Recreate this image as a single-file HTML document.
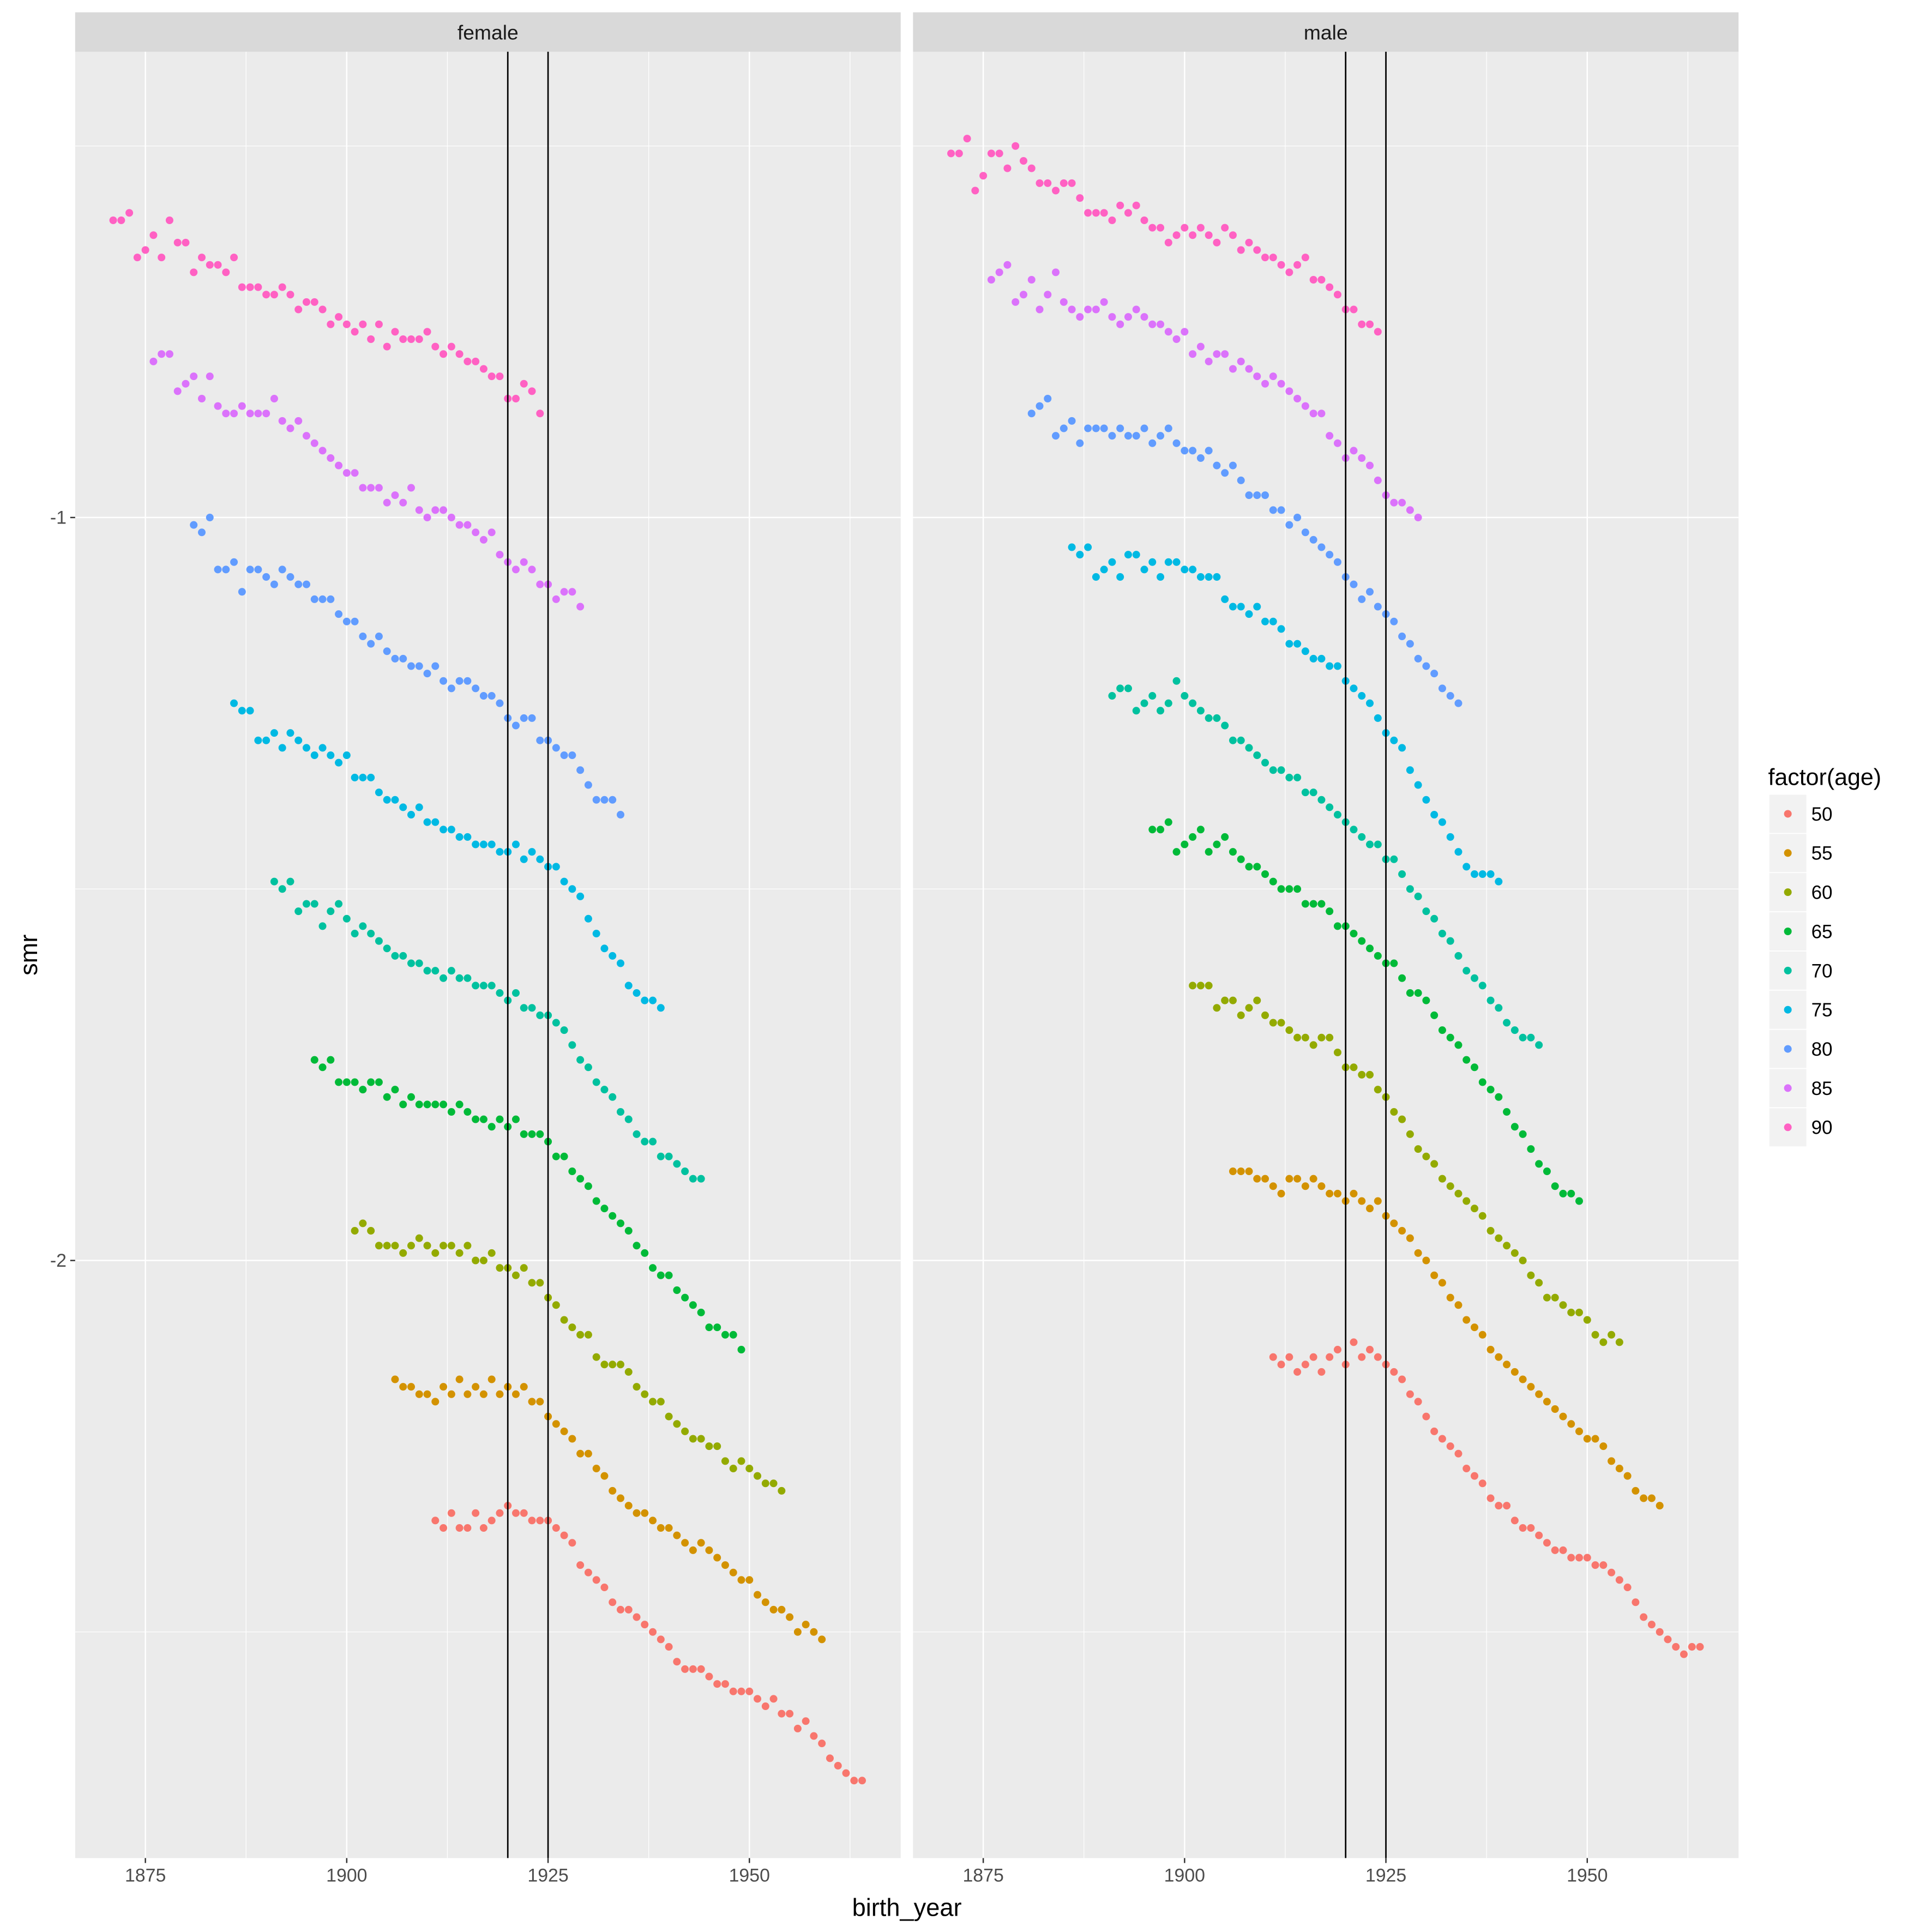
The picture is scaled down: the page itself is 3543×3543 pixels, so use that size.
<!DOCTYPE html>
<html><head><meta charset="utf-8"><style>html,body{margin:0;padding:0;background:#fff}svg{display:block;font-family:"Liberation Sans",Arial,sans-serif}</style></head>
<body>
<svg id="chart" width="3543" height="3543" viewBox="0 0 1568 1568" xmlns="http://www.w3.org/2000/svg"></svg>
<script>
const panels = ["female", "male"];
const ages = [50, 55, 60, 65, 70, 75, 80, 85, 90];
const colors = ["#F8766D","#D39200","#93AA00","#00BA38","#00C19F","#00B9E3","#619CFF","#DB72FB","#FF61C3"];
const startYears = [1911, 1906, 1901, 1896, 1891, 1886, 1881, 1876, 1871];
const xTicks = [1875, 1900, 1925, 1950];
const yTicks = [-1, -2];
const yMinor = [-0.5, -1.5, -2.5];
const vlines = [1920, 1925];
const female50 = [-2.35,-2.36,-2.34,-2.36,-2.36,-2.34,-2.36,-2.35,-2.34,-2.33,-2.34,-2.34,-2.35,-2.35,-2.35,-2.36,-2.37,-2.38,-2.41,-2.42,-2.43,-2.44,-2.46,-2.47,-2.47,-2.48,-2.49,-2.50,-2.51,-2.52,-2.54,-2.55,-2.55,-2.55,-2.56,-2.57,-2.57,-2.58,-2.58,-2.58,-2.59,-2.60,-2.59,-2.61,-2.61,-2.63,-2.62,-2.64,-2.65,-2.67,-2.68,-2.69,-2.70,-2.70];
const female55 = [-2.16,-2.17,-2.17,-2.18,-2.18,-2.19,-2.17,-2.18,-2.16,-2.18,-2.17,-2.18,-2.16,-2.18,-2.17,-2.18,-2.17,-2.19,-2.19,-2.21,-2.22,-2.23,-2.24,-2.26,-2.26,-2.28,-2.29,-2.31,-2.32,-2.33,-2.34,-2.34,-2.35,-2.36,-2.36,-2.37,-2.38,-2.39,-2.38,-2.39,-2.40,-2.41,-2.42,-2.43,-2.43,-2.45,-2.46,-2.47,-2.47,-2.48,-2.50,-2.49,-2.50,-2.51];
const female60 = [-1.96,-1.95,-1.96,-1.98,-1.98,-1.98,-1.99,-1.98,-1.97,-1.98,-1.99,-1.98,-1.98,-1.99,-1.98,-2.00,-2.00,-1.99,-2.01,-2.01,-2.02,-2.01,-2.03,-2.03,-2.05,-2.06,-2.08,-2.09,-2.10,-2.10,-2.13,-2.14,-2.14,-2.14,-2.15,-2.17,-2.18,-2.19,-2.19,-2.21,-2.22,-2.23,-2.24,-2.24,-2.25,-2.25,-2.27,-2.28,-2.27,-2.28,-2.29,-2.30,-2.30,-2.31];
const female65 = [-1.73,-1.74,-1.73,-1.76,-1.76,-1.76,-1.77,-1.76,-1.76,-1.78,-1.77,-1.79,-1.78,-1.79,-1.79,-1.79,-1.79,-1.80,-1.79,-1.80,-1.81,-1.81,-1.82,-1.81,-1.82,-1.81,-1.83,-1.83,-1.83,-1.84,-1.86,-1.86,-1.88,-1.89,-1.90,-1.92,-1.93,-1.94,-1.95,-1.96,-1.98,-1.99,-2.01,-2.02,-2.02,-2.04,-2.05,-2.06,-2.07,-2.09,-2.09,-2.10,-2.10,-2.12];
const female70 = [-1.49,-1.50,-1.49,-1.53,-1.52,-1.52,-1.55,-1.53,-1.52,-1.54,-1.56,-1.55,-1.56,-1.57,-1.58,-1.59,-1.59,-1.60,-1.60,-1.61,-1.61,-1.62,-1.61,-1.62,-1.62,-1.63,-1.63,-1.63,-1.64,-1.65,-1.64,-1.66,-1.66,-1.67,-1.67,-1.68,-1.69,-1.71,-1.73,-1.74,-1.76,-1.77,-1.78,-1.80,-1.81,-1.83,-1.84,-1.84,-1.86,-1.86,-1.87,-1.88,-1.89,-1.89];
const female75 = [-1.25,-1.26,-1.26,-1.30,-1.30,-1.29,-1.31,-1.29,-1.30,-1.31,-1.32,-1.31,-1.32,-1.33,-1.32,-1.35,-1.35,-1.35,-1.37,-1.38,-1.38,-1.39,-1.40,-1.39,-1.41,-1.41,-1.42,-1.42,-1.43,-1.43,-1.44,-1.44,-1.44,-1.45,-1.45,-1.44,-1.46,-1.45,-1.46,-1.47,-1.47,-1.49,-1.50,-1.51,-1.54,-1.56,-1.58,-1.59,-1.60,-1.63,-1.64,-1.65,-1.65,-1.66];
const female80 = [-1.01,-1.02,-1.00,-1.07,-1.07,-1.06,-1.10,-1.07,-1.07,-1.08,-1.09,-1.07,-1.08,-1.09,-1.09,-1.11,-1.11,-1.11,-1.13,-1.14,-1.14,-1.16,-1.17,-1.16,-1.18,-1.19,-1.19,-1.20,-1.20,-1.21,-1.20,-1.22,-1.23,-1.22,-1.22,-1.23,-1.24,-1.24,-1.25,-1.27,-1.28,-1.27,-1.27,-1.30,-1.30,-1.31,-1.32,-1.32,-1.34,-1.36,-1.38,-1.38,-1.38,-1.40];
const female85 = [-0.79,-0.78,-0.78,-0.83,-0.82,-0.81,-0.84,-0.81,-0.85,-0.86,-0.86,-0.85,-0.86,-0.86,-0.86,-0.84,-0.87,-0.88,-0.87,-0.89,-0.90,-0.91,-0.92,-0.93,-0.94,-0.94,-0.96,-0.96,-0.96,-0.98,-0.97,-0.98,-0.96,-0.99,-1.00,-0.99,-0.99,-1.00,-1.01,-1.01,-1.02,-1.03,-1.02,-1.05,-1.06,-1.07,-1.06,-1.07,-1.09,-1.09,-1.11,-1.10,-1.10,-1.12];
const female90 = [-0.60,-0.60,-0.59,-0.65,-0.64,-0.62,-0.65,-0.60,-0.63,-0.63,-0.67,-0.65,-0.66,-0.66,-0.67,-0.65,-0.69,-0.69,-0.69,-0.70,-0.70,-0.69,-0.70,-0.72,-0.71,-0.71,-0.72,-0.74,-0.73,-0.74,-0.75,-0.74,-0.76,-0.74,-0.77,-0.75,-0.76,-0.76,-0.76,-0.75,-0.77,-0.78,-0.77,-0.78,-0.79,-0.79,-0.80,-0.81,-0.81,-0.84,-0.84,-0.82,-0.83,-0.86];
const male50 = [-2.13,-2.14,-2.13,-2.15,-2.14,-2.13,-2.15,-2.13,-2.12,-2.14,-2.11,-2.13,-2.12,-2.13,-2.14,-2.15,-2.16,-2.18,-2.19,-2.21,-2.23,-2.24,-2.25,-2.26,-2.28,-2.29,-2.30,-2.32,-2.33,-2.33,-2.35,-2.36,-2.36,-2.37,-2.38,-2.39,-2.39,-2.40,-2.40,-2.40,-2.41,-2.41,-2.42,-2.43,-2.44,-2.46,-2.48,-2.49,-2.50,-2.51,-2.52,-2.53,-2.52,-2.52];
const male55 = [-1.88,-1.88,-1.88,-1.89,-1.89,-1.90,-1.91,-1.89,-1.89,-1.90,-1.89,-1.90,-1.91,-1.91,-1.92,-1.91,-1.92,-1.93,-1.92,-1.94,-1.95,-1.96,-1.97,-1.99,-2.00,-2.02,-2.03,-2.05,-2.06,-2.08,-2.09,-2.10,-2.12,-2.13,-2.14,-2.15,-2.16,-2.17,-2.18,-2.19,-2.20,-2.21,-2.22,-2.23,-2.24,-2.24,-2.25,-2.27,-2.28,-2.29,-2.31,-2.32,-2.32,-2.33];
const male60 = [-1.63,-1.63,-1.63,-1.66,-1.65,-1.65,-1.67,-1.66,-1.65,-1.67,-1.68,-1.68,-1.69,-1.70,-1.70,-1.71,-1.70,-1.70,-1.72,-1.74,-1.74,-1.75,-1.75,-1.77,-1.78,-1.80,-1.81,-1.83,-1.85,-1.86,-1.87,-1.89,-1.90,-1.91,-1.92,-1.93,-1.94,-1.96,-1.97,-1.98,-1.99,-2.00,-2.02,-2.03,-2.05,-2.05,-2.06,-2.07,-2.07,-2.08,-2.10,-2.11,-2.10,-2.11];
const male65 = [-1.42,-1.42,-1.41,-1.45,-1.44,-1.43,-1.42,-1.45,-1.44,-1.43,-1.45,-1.46,-1.47,-1.47,-1.48,-1.49,-1.50,-1.50,-1.50,-1.52,-1.52,-1.52,-1.53,-1.55,-1.55,-1.56,-1.57,-1.58,-1.59,-1.60,-1.60,-1.62,-1.64,-1.64,-1.65,-1.67,-1.69,-1.70,-1.71,-1.73,-1.74,-1.76,-1.77,-1.78,-1.80,-1.82,-1.83,-1.85,-1.87,-1.88,-1.90,-1.91,-1.91,-1.92];
const male70 = [-1.24,-1.23,-1.23,-1.26,-1.25,-1.24,-1.26,-1.25,-1.22,-1.24,-1.25,-1.26,-1.27,-1.27,-1.28,-1.30,-1.30,-1.31,-1.32,-1.33,-1.34,-1.34,-1.35,-1.35,-1.37,-1.37,-1.38,-1.39,-1.40,-1.41,-1.42,-1.43,-1.44,-1.44,-1.46,-1.46,-1.48,-1.50,-1.51,-1.53,-1.54,-1.56,-1.57,-1.59,-1.61,-1.62,-1.63,-1.65,-1.66,-1.68,-1.69,-1.70,-1.70,-1.71];
const male75 = [-1.04,-1.05,-1.04,-1.08,-1.07,-1.06,-1.08,-1.05,-1.05,-1.07,-1.06,-1.08,-1.06,-1.06,-1.07,-1.07,-1.08,-1.08,-1.08,-1.11,-1.12,-1.12,-1.13,-1.12,-1.14,-1.14,-1.15,-1.17,-1.17,-1.18,-1.19,-1.19,-1.20,-1.20,-1.22,-1.23,-1.24,-1.25,-1.27,-1.29,-1.30,-1.31,-1.34,-1.36,-1.38,-1.40,-1.41,-1.43,-1.45,-1.47,-1.48,-1.48,-1.48,-1.49];
const male80 = [-0.86,-0.85,-0.84,-0.89,-0.88,-0.87,-0.90,-0.88,-0.88,-0.88,-0.89,-0.88,-0.89,-0.89,-0.88,-0.90,-0.89,-0.88,-0.90,-0.91,-0.91,-0.92,-0.91,-0.93,-0.94,-0.93,-0.95,-0.97,-0.97,-0.97,-0.99,-0.99,-1.01,-1.00,-1.02,-1.03,-1.04,-1.05,-1.06,-1.08,-1.09,-1.11,-1.10,-1.12,-1.13,-1.14,-1.16,-1.17,-1.19,-1.20,-1.21,-1.23,-1.24,-1.25];
const male85 = [-0.68,-0.67,-0.66,-0.71,-0.70,-0.68,-0.72,-0.70,-0.67,-0.71,-0.72,-0.73,-0.72,-0.72,-0.71,-0.73,-0.74,-0.73,-0.72,-0.73,-0.74,-0.74,-0.75,-0.76,-0.75,-0.78,-0.77,-0.79,-0.78,-0.78,-0.80,-0.79,-0.80,-0.81,-0.82,-0.81,-0.82,-0.83,-0.84,-0.85,-0.86,-0.86,-0.89,-0.90,-0.92,-0.91,-0.92,-0.93,-0.95,-0.97,-0.98,-0.98,-0.99,-1.00];
const male90 = [-0.51,-0.51,-0.49,-0.56,-0.54,-0.51,-0.51,-0.53,-0.50,-0.52,-0.53,-0.55,-0.55,-0.56,-0.55,-0.55,-0.57,-0.59,-0.59,-0.59,-0.60,-0.58,-0.59,-0.58,-0.60,-0.61,-0.61,-0.63,-0.62,-0.61,-0.62,-0.61,-0.62,-0.63,-0.61,-0.62,-0.64,-0.63,-0.64,-0.65,-0.65,-0.66,-0.67,-0.66,-0.65,-0.68,-0.68,-0.69,-0.70,-0.72,-0.72,-0.74,-0.74,-0.75];
const seriesByPanel = [
  [female50,female55,female60,female65,female70,female75,female80,female85,female90],
  [male50,male55,male60,male65,male70,male75,male80,male85,male90]
];

const NS = "http://www.w3.org/2000/svg";
const svg = document.getElementById("chart");
function mk(tag, attrs, parent) {
  const e = document.createElementNS(NS, tag);
  for (const k in attrs) e.setAttribute(k, attrs[k]);
  (parent || svg).appendChild(e);
  return e;
}
const panelX0 = [61, 741], panelW = 670, plotTop = 42, plotBot = 1508;
function xScale(p, yr) { return panelX0[p] + 57 + (yr - 1875) * (163.4 / 25); }
function yScale(v) { return 420 + (-1 - v) * 603; }

panels.forEach((name, p) => {
  const g = mk("g", {});
  
  
  const bg = mk("rect", {x: panelX0[p], y: plotTop, width: panelW, height: plotBot - plotTop, fill: "#EBEBEB"}, g);
  
  
  const strip = mk("rect", {x: panelX0[p], y: 10, width: panelW, height: 32, fill: "#D9D9D9"}, g);
  
  
  const st = mk("text", {x: panelX0[p] + panelW / 2, y: 32, "text-anchor": "middle", "font-size": 16.5, fill: "#1A1A1A"}, g);
  st.textContent = name;
  
  
  yMinor.forEach(v => { const l = mk("line", {x1: panelX0[p], x2: panelX0[p] + panelW, y1: yScale(v), y2: yScale(v), stroke: "#fff", "stroke-width": 0.55}, g);
      });
  for (let i = 0; i < xTicks.length - 1; i++) { const m = (xTicks[i] + xTicks[i+1]) / 2; const l = mk("line", {x1: xScale(p, m), x2: xScale(p, m), y1: plotTop, y2: plotBot, stroke: "#fff", "stroke-width": 0.55}, g);
      }
  const mEnd = xTicks[xTicks.length-1] + 12.5;
  { const l = mk("line", {x1: xScale(p, mEnd), x2: xScale(p, mEnd), y1: plotTop, y2: plotBot, stroke: "#fff", "stroke-width": 0.55}, g);
      }
  yTicks.forEach(v => { const l = mk("line", {x1: panelX0[p], x2: panelX0[p] + panelW, y1: yScale(v), y2: yScale(v), stroke: "#fff", "stroke-width": 1.1}, g);
      });
  xTicks.forEach(t => {
    const l = mk("line", {x1: xScale(p, t), x2: xScale(p, t), y1: plotTop, y2: plotBot, stroke: "#fff", "stroke-width": 1.1}, g);
     
    const tk = mk("line", {x1: xScale(p, t), x2: xScale(p, t), y1: plotBot, y2: plotBot + 4, stroke: "#333", "stroke-width": 1.1}, g);
     
    const tx = mk("text", {x: xScale(p, t), y: plotBot + 19, "text-anchor": "middle", "font-size": 15, fill: "#4D4D4D"}, g);
    tx.textContent = t;
     
  });
  seriesByPanel[p].forEach((vals, s) => {
    vals.forEach((v, i) => {
      const c = mk("circle", {cx: xScale(p, startYears[s] + i), cy: yScale(v), r: 3.1, fill: colors[s]}, g);
      
      
    });
  });
  vlines.forEach(yr => { const l = mk("line", {x1: xScale(p, yr), x2: xScale(p, yr), y1: plotTop, y2: plotBot, stroke: "#000", "stroke-width": 1.2}, g);
      });
});
yTicks.forEach(v => {
  const tk = mk("line", {x1: 57, x2: 61, y1: yScale(v), y2: yScale(v), stroke: "#333", "stroke-width": 1.1});
   
  const t = mk("text", {x: 54, y: yScale(v) + 5, "text-anchor": "end", "font-size": 15, fill: "#4D4D4D"});
  t.textContent = v;
   
});
const xt = mk("text", {x: 736, y: 1555, "text-anchor": "middle", "font-size": 20, fill: "#000"});
xt.textContent = "birth_year";
 
const yt = mk("text", {x: 30, y: 775, "text-anchor": "middle", "font-size": 20, fill: "#000", transform: "rotate(-90 30 775)"});
yt.textContent = "smr";
 
const lg = mk("g", {});
 
const lt = mk("text", {x: 1435, y: 637, "font-size": 19, fill: "#000"}, lg);
lt.textContent = "factor(age)";
 
ages.forEach((a, i) => {
  const y0 = 645 + i * 31.8;
  const r = mk("rect", {x: 1436, y: y0, width: 30, height: 31, fill: "#F2F2F2"}, lg);
   
  const c = mk("circle", {cx: 1451, cy: y0 + 15.5, r: 3.1, fill: colors[i]}, lg);
   
  const t = mk("text", {x: 1470, y: y0 + 21, "font-size": 15.5, fill: "#000"}, lg);
  t.textContent = a;
   
});
</script>
</body></html>
